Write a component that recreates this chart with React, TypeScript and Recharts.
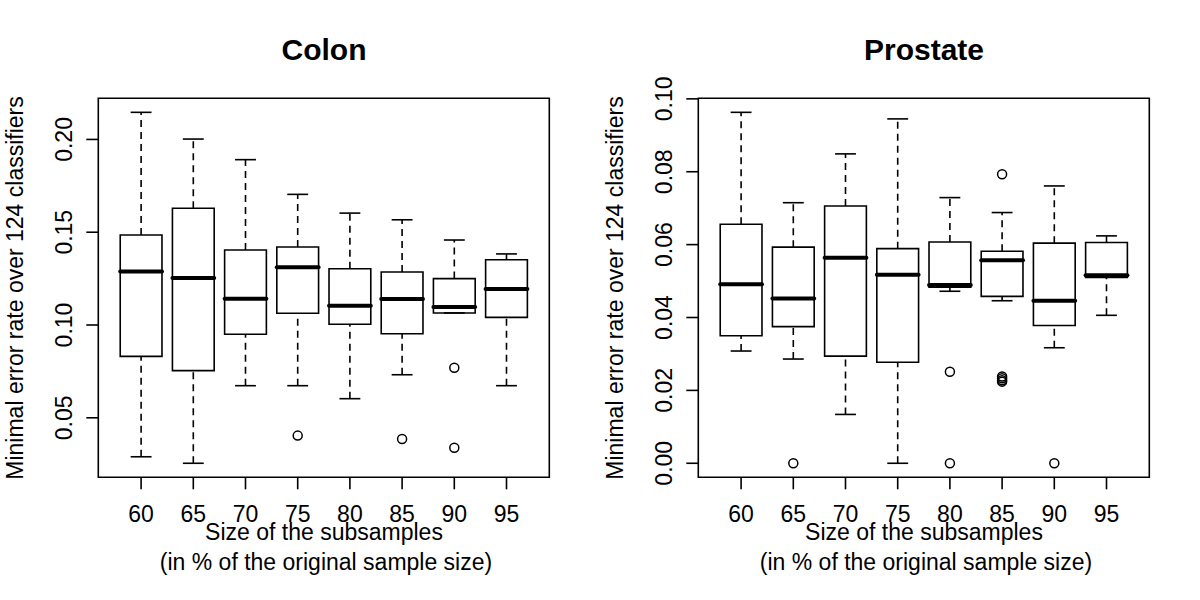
import React from 'react';
import { ComposedChart, XAxis, YAxis, Scatter, ReferenceArea, ReferenceLine } from 'recharts';

// Categories (subsample size, % of original sample)
const sizes = ['60', '65', '70', '75', '80', '85', '90', '95'];

// Colon
const colonLow = [0.029, 0.0255, 0.0673, 0.0673, 0.0603, 0.0732, 0.1065, 0.0673];
const colonQ1 = [0.0831, 0.0754, 0.095, 0.1063, 0.1004, 0.0953, 0.1065, 0.1041];
const colonMed = [0.1289, 0.1253, 0.1142, 0.1311, 0.1104, 0.114, 0.1097, 0.1194];
const colonQ3 = [0.1485, 0.1629, 0.1404, 0.142, 0.1303, 0.1286, 0.125, 0.1352];
const colonHigh = [0.2146, 0.2002, 0.1891, 0.1704, 0.1603, 0.1567, 0.1458, 0.1383];
const colonOutlierSize = ['75', '85', '90', '90'];
const colonOutlierValue = [0.0404, 0.0386, 0.077, 0.0339];
const colonTicks = [0.05, 0.1, 0.15, 0.2];

// Prostate
const prostateLow = [0.0308, 0.0286, 0.0134, 0.0, 0.0472, 0.0446, 0.0317, 0.0406];
const prostateQ1 = [0.035, 0.0375, 0.0294, 0.0277, 0.0483, 0.0458, 0.0378, 0.051];
const prostateMed = [0.0491, 0.0452, 0.0564, 0.0517, 0.0489, 0.0557, 0.0446, 0.0516];
const prostateQ3 = [0.0656, 0.0593, 0.0706, 0.0589, 0.0607, 0.0582, 0.0604, 0.0606];
const prostateHigh = [0.0963, 0.0715, 0.0849, 0.0945, 0.0729, 0.0688, 0.0761, 0.0624];
const prostateOutlierSize = ['65', '80', '80', '85', '85', '85', '85', '85', '90'];
const prostateOutlierValue = [0.0, 0.0251, 0.0, 0.0793, 0.0238, 0.0233, 0.0228, 0.0224, 0.0];
const prostateTicks = [0.0, 0.02, 0.04, 0.06, 0.08, 0.1];

const xTitle1 = 'Size of the subsamples';
const xTitle2 = '(in % of the original sample size)';
const yTitle = 'Minimal error rate over 124 classifiers';

const FONT = '"Liberation Sans", Arial, Helvetica, sans-serif';
const FS = 23;
const LW = 1.6;
const X_MIN = 0.18;
const X_MAX = 8.82;

type PanelProps = {
  title: string;
  low: number[];
  q1: number[];
  med: number[];
  q3: number[];
  high: number[];
  outSize: string[];
  outVal: number[];
  ticks: number[];
};

const YTick = (p: any) => (
  <text
    x={72}
    y={p.y}
    transform={`rotate(-90, 72, ${p.y})`}
    textAnchor="middle"
    fontSize={FS}
    fontFamily={FONT}
    fill="#000"
  >
    {Number(p.payload.value).toFixed(2)}
  </text>
);

const XTick = (p: any) => (
  <text x={p.x} y={522} textAnchor="middle" fontSize={FS} fontFamily={FONT} fill="#000">
    {sizes[Number(p.payload.value) - 1]}
  </text>
);

const OutlierShape = (p: any) => (
  <circle cx={p.cx} cy={p.cy} r={4.5} fill="none" stroke="#000" strokeWidth={1.5} />
);

function BoxPanel({ title, low, q1, med, q3, high, outSize, outVal, ticks }: PanelProps) {
  const all = [...low, ...high, ...outVal];
  const mn = Math.min(...all);
  const mx = Math.max(...all);
  const pad = (mx - mn) * 0.04;
  const domain: [number, number] = [mn - pad, mx + pad];
  const outliers = outSize.map((s, k) => ({ x: sizes.indexOf(s) + 1, y: outVal[k] }));
  const xs = sizes.map((_, i) => i + 1);

  return (
    <div style={{ position: 'relative', width: 600, height: 600 }}>
      <ComposedChart
        width={600}
        height={600}
        margin={{ top: 98.3, right: 50.7, bottom: 92.7, left: 58.3 }}
      >
        <XAxis
          type="number"
          dataKey="x"
          domain={[X_MIN, X_MAX]}
          ticks={xs}
          allowDataOverflow
          height={30}
          axisLine={false}
          tickLine={{ stroke: '#000', strokeWidth: LW }}
          tickSize={12}
          tick={<XTick />}
          interval={0}
        />
        <YAxis
          type="number"
          dataKey="y"
          domain={domain}
          ticks={ticks}
          allowDataOverflow
          width={40}
          axisLine={false}
          tickLine={{ stroke: '#000', strokeWidth: LW }}
          tickSize={12}
          tick={<YTick />}
          interval={0}
        />
        <ReferenceArea
          x1={X_MIN}
          x2={X_MAX}
          y1={domain[0]}
          y2={domain[1]}
          fill="none"
          fillOpacity={0}
          stroke="#000"
          strokeWidth={LW}
          ifOverflow="visible"
        />
        {xs.map((x, i) => (
          <ReferenceArea
            key={`box-${i}`}
            x1={x - 0.4}
            x2={x + 0.4}
            y1={q1[i]}
            y2={q3[i]}
            fill="#fff"
            fillOpacity={0}
            stroke="#000"
            strokeWidth={LW}
            ifOverflow="visible"
          />
        ))}
        {xs.map((x, i) => (
          <ReferenceLine
            key={`uw-${i}`}
            segment={[{ x, y: q3[i] }, { x, y: high[i] }]}
            stroke="#000"
            strokeWidth={LW}
            strokeDasharray="7 5"
            ifOverflow="visible"
          />
        ))}
        {xs.map((x, i) =>
          low[i] < q1[i] ? (
            <ReferenceLine
              key={`lw-${i}`}
              segment={[{ x, y: low[i] }, { x, y: q1[i] }]}
              stroke="#000"
              strokeWidth={LW}
              strokeDasharray="7 5"
              ifOverflow="visible"
            />
          ) : null
        )}
        {xs.map((x, i) => (
          <ReferenceLine
            key={`uc-${i}`}
            segment={[{ x: x - 0.2, y: high[i] }, { x: x + 0.2, y: high[i] }]}
            stroke="#000"
            strokeWidth={LW}
            ifOverflow="visible"
          />
        ))}
        {xs.map((x, i) => (
          <ReferenceLine
            key={`lc-${i}`}
            segment={[{ x: x - 0.2, y: low[i] }, { x: x + 0.2, y: low[i] }]}
            stroke="#000"
            strokeWidth={LW}
            ifOverflow="visible"
          />
        ))}
        {xs.map((x, i) => (
          <ReferenceLine
            key={`md-${i}`}
            segment={[{ x: x - 0.4, y: med[i] }, { x: x + 0.4, y: med[i] }]}
            stroke="#000"
            strokeWidth={4}
            strokeLinecap="round"
            ifOverflow="visible"
          />
        ))}
        <Scatter
          data={outliers}
          dataKey="y"
          shape={<OutlierShape />}
          isAnimationActive={false}
        />
      </ComposedChart>
      <svg
        width={600}
        height={600}
        style={{ position: 'absolute', left: 0, top: 0, pointerEvents: 'none' }}
      >
        <text x={324} y={60} textAnchor="middle" fontSize={30} fontWeight="bold" fontFamily={FONT} fill="#000">
          {title}
        </text>
        <text
          x={23}
          y={288}
          transform="rotate(-90, 23, 288)"
          textAnchor="middle"
          fontSize={FS}
          fontFamily={FONT}
          fill="#000"
        >
          {yTitle}
        </text>
        <text x={324} y={539.5} textAnchor="middle" fontSize={FS} fontFamily={FONT} fill="#000">
          {xTitle1}
        </text>
        <text x={326} y={570} textAnchor="middle" fontSize={FS} fontFamily={FONT} fill="#000">
          {xTitle2}
        </text>
      </svg>
    </div>
  );
}

export default function App() {
  return (
    <div
      style={{
        position: 'absolute',
        left: 0,
        top: 0,
        width: 1200,
        height: 600,
        background: '#fff',
        display: 'flex',
      }}
    >
      <BoxPanel
        title="Colon"
        low={colonLow}
        q1={colonQ1}
        med={colonMed}
        q3={colonQ3}
        high={colonHigh}
        outSize={colonOutlierSize}
        outVal={colonOutlierValue}
        ticks={colonTicks}
      />
      <BoxPanel
        title="Prostate"
        low={prostateLow}
        q1={prostateQ1}
        med={prostateMed}
        q3={prostateQ3}
        high={prostateHigh}
        outSize={prostateOutlierSize}
        outVal={prostateOutlierValue}
        ticks={prostateTicks}
      />
    </div>
  );
}
